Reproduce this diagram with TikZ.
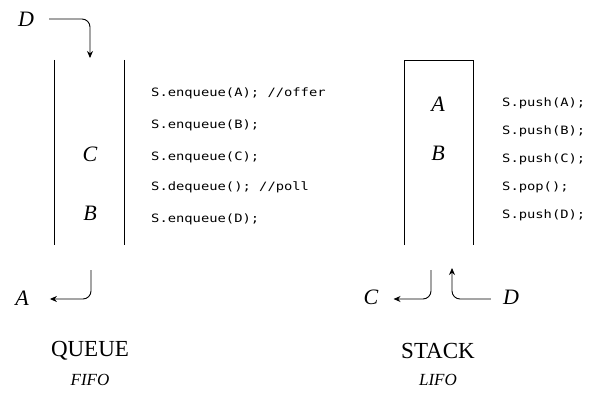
\documentclass[tikz,border=0pt]{standalone}
\usepackage{fontspec}
\setmainfont{Liberation Serif}
\newfontfamily\codefont[FakeStretch=1.2]{DejaVu Sans Mono}
\usetikzlibrary{arrows.meta}
\begin{document}
\begin{tikzpicture}[x=1pt,y=-1pt,
  wall/.style={line width=0.9pt},
  arr/.style={line width=0.9pt,rounded corners=8pt,-{Stealth[length=7pt,width=6pt]}},
  letter/.style={font=\fontsize{22}{22}\selectfont\itshape,inner sep=0pt},
  code/.style={font=\codefont\fontsize{11.5}{12}\selectfont,anchor=west,inner sep=0pt},
  title/.style={font=\fontsize{23}{23}\selectfont,inner sep=0pt},
  sub/.style={font=\fontsize{17}{17}\selectfont\itshape,inner sep=0pt}]
\useasboundingbox (0,0) rectangle (605,401);
% queue
\coordinate (qtl) at (54,60); \coordinate (qbl) at (54,245);
\coordinate (qtr) at (124,60); \coordinate (qbr) at (124,245);
\draw[wall] (qtl) -- (qbl);
\draw[wall] (qtr) -- (qbr);
\node[letter] (qC) at (90,154) {C};
\node[letter] (qB) at (90,213) {B};
\node[letter] (Dq) at (26,19) {D};
\coordinate (qin) at (90,58);
\draw[arr] ([xshift=15pt]Dq.east) -| (qin);
\node[letter] (Aq) at (22,298) {A};
\coordinate (qout) at (91,270);
\draw[arr] (qout) |- ([xshift=21pt]Aq.east |- 0,299);
\node[code] (q1) at (151,93) {S.enqueue(A); //offer};
\node[code] (q2) at (151,125) {S.enqueue(B);};
\node[code] (q3) at (151,157) {S.enqueue(C);};
\node[code] (q4) at (151,187) {S.dequeue(); //poll};
\node[code] (q5) at (151,219) {S.enqueue(D);};
\node[title] (qt) at (90,351) {QUEUE};
\node[sub] (qs) at (90,380) {FIFO};
% stack
\coordinate (sbl) at (404,245); \coordinate (stl) at (404,60);
\coordinate (str) at (473,60); \coordinate (sbr) at (473,245);
\draw[wall] (sbl) -- (stl) -- (str) -- (sbr);
\node[letter] (sA) at (438,104) {A};
\node[letter] (sB) at (438,153) {B};
\node[code] (s1) at (502,103) {S.push(A);};
\node[code] (s2) at (502,131) {S.push(B);};
\node[code] (s3) at (502,159) {S.push(C);};
\node[code] (s4) at (502,187) {S.pop();};
\node[code] (s5) at (502,215) {S.push(D);};
\node[letter] (Cs) at (371,297) {C};
\coordinate (sout) at (431,270);
\draw[arr] (sout) |- ([xshift=15pt]Cs.east |- 0,299);
\node[letter] (Ds) at (511,297) {D};
\coordinate (sin) at (452,268);
\draw[arr] ([xshift=-12pt]Ds.west |- 0,299) -| (sin);
\node[title] (st) at (438,351) {STACK};
\node[sub] (ss) at (438,380) {LIFO};
\end{tikzpicture}
\end{document}
